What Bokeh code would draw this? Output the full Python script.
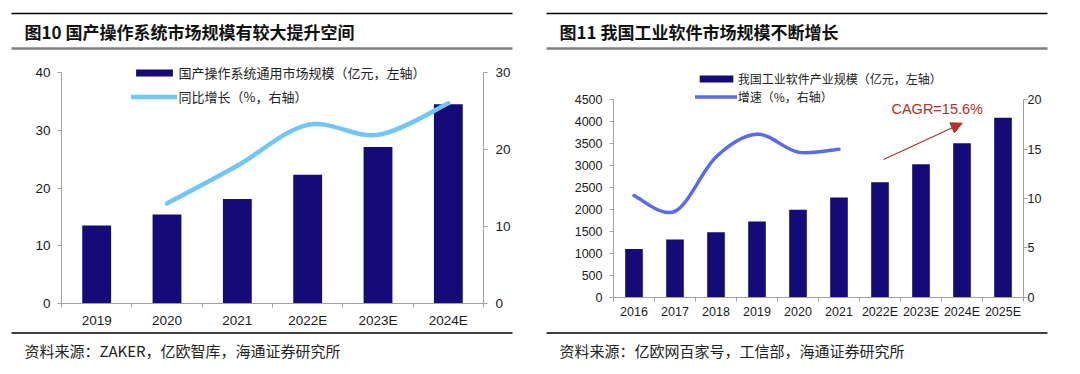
from bokeh.plotting import figure
from bokeh.models import (Range1d, LinearAxis, FixedTicker, Legend, LegendItem,
                          Arrow, NormalHead, Label)
from bokeh.layouts import row
from bokeh.embed import file_html
from bokeh.resources import INLINE
from bokeh.core.properties import value

# ---------------- data ----------------
os_years = ["2019", "2020", "2021", "2022E", "2023E", "2024E"]
os_market = [13.5, 15.4, 18.1, 22.3, 27.1, 34.5]          # 亿元, left axis
os_growth_years = ["2020", "2021", "2022E", "2023E", "2024E"]
os_growth = [13.0, 17.9, 23.2, 21.9, 26.0]                  # %, right axis

sw_years = ["2016", "2017", "2018", "2019", "2020", "2021",
            "2022E", "2023E", "2024E", "2025E"]
sw_market = [1100, 1315, 1482, 1726, 1992, 2272, 2622, 3032, 3511, 4089]
sw_growth_years = ["2016", "2017", "2018", "2019", "2020", "2021"]
sw_growth = [10.3, 8.7, 14.2, 16.5, 14.7, 15.0]

title_left = "图10 国产操作系统市场规模有较大提升空间"
title_right = "图11 我国工业软件市场规模不断增长"
source_left = "资料来源：ZAKER，亿欧智库，海通证券研究所"
source_right = "资料来源：亿欧网百家号，工信部，海通证券研究所"
legend_left = ["国产操作系统通用市场规模（亿元，左轴）", "同比增长（%，右轴）"]
legend_right = ["我国工业软件产业规模（亿元，左轴）", "增速（%，右轴）"]
cagr_text = "CAGR=15.6%"

BAR = "#140A78"
AXIS = "#A0A0A0"
RED = "#B0302A"
CJK = "Noto Sans CJK SC"
LAT = "Liberation Sans"

W, H = 540, 374


def smooth(xs, ys):
    """Catmull-Rom style bezier segments through the data points."""
    n = len(xs)
    pts = list(zip(xs, ys))
    d = dict(x0=[], y0=[], x1=[], y1=[], cx0=[], cy0=[], cx1=[], cy1=[])
    for i in range(n - 1):
        p0 = pts[i - 1] if i > 0 else pts[i]
        p1, p2 = pts[i], pts[i + 1]
        p3 = pts[i + 2] if i + 2 < n else pts[i + 1]
        d["x0"].append(p1[0]); d["y0"].append(p1[1])
        d["x1"].append(p2[0]); d["y1"].append(p2[1])
        d["cx0"].append(p1[0] + (p2[0] - p0[0]) / 6)
        d["cy0"].append(p1[1] + (p2[1] - p0[1]) / 6)
        d["cx1"].append(p2[0] - (p3[0] - p1[0]) / 6)
        d["cy1"].append(p2[1] - (p3[1] - p1[1]) / 6)
    return d


def panel(cats, bars, gcats, gvals, plot_box, y_max, y_step, y2_max, y2_step,
          bar_w, line_color, line_w, font_px, stand_y, stand_y2, stand_x,
          legend_labels, legend_xy, legend_font, glyph_w, label_h, legend_spacing,
          label_standoff, title, source, rule_x, text_x):
    """plot_box = (left px, right px, top px, bottom px) of the plotting area."""
    n = len(cats)
    L, R, T, B = plot_box
    kx = (R - L) / n
    x0 = -0.5 - L / kx
    ky = (B - T) / y_max
    ky2 = (B - T) / y2_max

    p = figure(width=W, height=H,
               x_range=Range1d(x0, x0 + W / kx),
               y_range=Range1d(-(H - B) / ky, B / ky),
               output_backend="svg", toolbar_location=None, min_border=0,
               x_axis_type=None, y_axis_type=None)
    p.outline_line_color = None
    p.extra_y_ranges = {"right": Range1d(-(H - B) / ky2, B / ky2),
                        "py": Range1d(H, 0)}
    p.extra_x_ranges = {"px": Range1d(0, W)}

    xs = list(range(n))
    rb = p.vbar(x=xs, top=bars, width=bar_w, fill_color=BAR, line_color=None)
    gx = [cats.index(c) for c in gcats]
    rl = p.bezier(source=smooth(gx, gvals), x0="x0", y0="y0", x1="x1", y1="y1",
                  cx0="cx0", cy0="cy0", cx1="cx1", cy1="cy1",
                  line_color=line_color, line_width=line_w, line_cap="round",
                  y_range_name="right")

    def style(ax):
        ax.axis_line_color = AXIS
        ax.major_tick_line_color = AXIS
        ax.minor_tick_line_color = AXIS
        ax.major_tick_out = 4
        ax.major_tick_in = 0
        ax.minor_tick_out = 4
        ax.minor_tick_in = 0
        ax.major_label_text_font = LAT
        ax.major_label_text_font_size = font_px
        ax.major_label_text_color = "#1A1A1A"

    xa = LinearAxis(ticker=FixedTicker(ticks=xs, minor_ticks=[i - 0.5 for i in range(n + 1)]),
                    major_label_overrides={i: c for i, c in enumerate(cats)},
                    fixed_location=0, bounds=(-0.5, n - 0.5))
    style(xa)
    xa.major_tick_line_color = None
    xa.major_label_standoff = stand_x
    p.add_layout(xa, "below")

    ya = LinearAxis(ticker=FixedTicker(ticks=list(range(0, int(y_max) + 1, y_step))),
                    fixed_location=-0.5, bounds=(0, y_max))
    style(ya)
    ya.minor_tick_line_color = None
    ya.major_label_standoff = stand_y
    p.add_layout(ya, "left")

    ya2 = LinearAxis(y_range_name="right",
                     ticker=FixedTicker(ticks=list(range(0, int(y2_max) + 1, y2_step))),
                     fixed_location=n - 0.5, bounds=(0, y2_max))
    style(ya2)
    ya2.minor_tick_line_color = None
    ya2.major_label_standoff = stand_y2
    p.add_layout(ya2, "right")

    leg = Legend(items=[LegendItem(label=legend_labels[0], renderers=[rb]),
                        LegendItem(label=legend_labels[1], renderers=[rl])],
                 location=legend_xy, padding=0, margin=0, border_line_color=None,
                 background_fill_alpha=0, glyph_width=glyph_w, glyph_height=9,
                 label_height=label_h, spacing=legend_spacing,
                 label_standoff=label_standoff,
                 label_text_font=CJK, label_text_font_size=legend_font,
                 label_text_color="#222222")
    p.add_layout(leg, "center")

    # header / footer (page furniture, pixel coordinates)
    rx0, rx1 = rule_x
    p.segment(x0=[rx0], y0=[13], x1=[rx1], y1=[13], line_color="#000000", line_width=1.5,
              x_range_name="px", y_range_name="py")
    p.segment(x0=[rx0], y0=[48], x1=[rx1], y1=[48], line_color="#808080", line_width=2.5,
              x_range_name="px", y_range_name="py")
    p.segment(x0=[rx0], y0=[332.5], x1=[rx1], y1=[332.5], line_color="#000000", line_width=1.5,
              x_range_name="px", y_range_name="py")
    p.text(x=[text_x], y=[30.5], text=[title], text_font=value(CJK), text_font_style="bold",
           text_font_size="17px", text_baseline="middle", text_color="#111111",
           x_range_name="px", y_range_name="py")
    p.text(x=[text_x], y=[349.5], text=[source], text_font=value(CJK),
           text_font_size="15px", text_baseline="middle", text_color="#222222",
           x_range_name="px", y_range_name="py")
    return p


left = panel(os_years, os_market, os_growth_years, os_growth,
             (61, 483, 72, 303), 40, 10, 30, 10, 0.41, "#70C6F4", 4.5, "13.5px",
             7, 8, 5, legend_left, (130.6, H - 106), "13px", 46, 20, 4, 2,
             title_left, source_left, (11, 512), 24)

right = panel(sw_years, sw_market, sw_growth_years, sw_growth,
              (73, 483, 99.3, 296.7), 4500, 500, 20, 5, 0.43, "#5A6AF0", 3.5, "12.5px",
              7, 0, 4, legend_right, (154.8, H - 105), "12px", 42, 18, 0, 1,
              title_right, source_right, (6, 507), 19)

right.add_layout(Arrow(end=NormalHead(size=11, fill_color=RED, line_color=RED),
                       x_start=343, y_start=159, x_end=421.7, y_end=122.7,
                       x_range_name="px", y_range_name="py",
                       line_color=RED, line_width=1.2))
right.add_layout(Label(x=396.7, y=108, text=cagr_text, text_align="center",
                       text_baseline="middle", text_font=LAT,
                       x_range_name="px", y_range_name="py",
                       text_font_size="14.5px", text_color=RED))

layout = row(left, right)

open("out.html", "w").write(file_html(layout, INLINE))
